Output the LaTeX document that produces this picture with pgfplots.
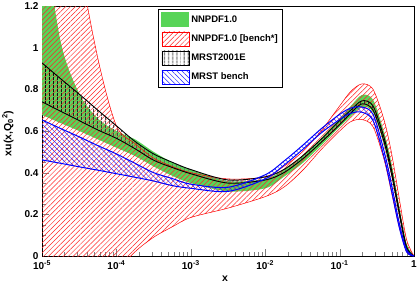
\documentclass[border=0pt]{standalone}
\usepackage{fontspec}
\setmainfont{Liberation Sans}
\usepackage{pgfplots}
\pgfplotsset{compat=1.18}
\usepackage{pgfplotstable}
\usepgfplotslibrary{fillbetween}
\usetikzlibrary{patterns.meta}
\definecolor{nngreen}{RGB}{88,212,88}

\pgfplotstableread{
x        gu     gl     ru     rl     ku     kl     bu     bl
1e-5     1.60   0.677  3.4    -1.0   0.927  0.740  0.653  0.461
1.778e-5 1.03   0.638  2.3    -0.70  0.851  0.695  0.612  0.445
3.162e-5 0.78   0.600  1.45   -0.45  0.777  0.650  0.572  0.428
5.623e-5 0.66   0.560  0.95   -0.23  0.700  0.605  0.530  0.412
1e-4     0.60   0.520  0.625  -0.08  0.625  0.565  0.490  0.395
1.778e-4 0.56   0.480  0.54   0.02   0.550  0.515  0.445  0.378
3.162e-4 0.50   0.430  0.47   0.09   0.490  0.460  0.400  0.360
5.623e-4 0.45   0.385  0.43   0.14   0.450  0.425  0.372  0.338
1e-3     0.415  0.350  0.40   0.185  0.415  0.395  0.345  0.325
3.162e-3 0.36   0.310  0.37   0.23   0.365  0.350  0.330  0.310
1e-2     0.37   0.325  0.38   0.285  0.380  0.365  0.390  0.370
1.778e-2 0.415  0.380  0.43   0.33   0.415  0.400  0.455  0.435
3.162e-2 0.48   0.445  0.50   0.41   0.480  0.465  0.530  0.510
5.623e-2 0.565  0.530  0.60   0.51   0.560  0.545  0.610  0.590
0.1      0.66   0.620  0.72   0.60   0.650  0.630  0.680  0.655
0.1413   0.72   0.670  0.79   0.645  0.700  0.685  0.710  0.685
0.1995   0.773  0.715  0.826  0.655  0.745  0.730  0.715  0.690
0.2818   0.75   0.690  0.80   0.62   0.720  0.700  0.680  0.650
0.3981   0.59   0.530  0.65   0.46   0.565  0.545  0.500  0.470
0.5012   0.44   0.380  0.49   0.30   0.410  0.390  0.340  0.310
0.631    0.24   0.200  0.28   0.14   0.220  0.205  0.160  0.140
0.7943   0.06   0.030  0.08   0.02   0.045  0.035  0.030  0.020
1        0      0      0      0      0      0      0      0
}\data

\begin{document}
\begin{tikzpicture}
\begin{axis}[
  scale only axis, width=372pt, height=250pt,
  xmode=log, xmin=1e-5, xmax=1, ymin=0, ymax=1.2,
  xtick={1e-5,1e-4,1e-3,1e-2,1e-1,1},
  xticklabels={10\textsuperscript{-5},10\textsuperscript{-4},10\textsuperscript{-3},10\textsuperscript{-2},10\textsuperscript{-1},1},
  ytick={0,0.2,0.4,0.6,0.8,1,1.2},
  yticklabels={0,0.2,0.4,0.6,0.8,1,1.2},
  minor y tick num=3,
  xtick pos=bottom, ytick pos=left,
  tick align=inside,
  major tick length=7pt, minor tick length=4pt,
  tick label style={font=\bfseries\fontsize{10}{12}\selectfont},
  xticklabel style={yshift=-1.5pt},
  xlabel={x}, ylabel={xu(x,Q\textsubscript{0}\rlap{\textsuperscript{2}}\hphantom{\textsuperscript{2}})},
  label style={font=\bfseries\fontsize{10.5}{12}\selectfont},
  xlabel style={at={(axis description cs:0.492,0)}, anchor=base, yshift=-25pt},
  ylabel style={at={(axis description cs:-0.0914,0.49)}, anchor=center},
  legend style={at={(0.312,0.988)}, anchor=north west, draw=black, line width=0.8pt,
    font=\bfseries\fontsize{9.5}{11}\selectfont, row sep=4.5pt, inner sep=3pt,
    nodes={inner sep=2pt}},
  legend cell align=left,
  clip=true,
]
\addplot[name path=gu, draw=none, smooth, forget plot] table[x=x,y=gu]{\data};
\addplot[name path=gl, draw=none, smooth, forget plot] table[x=x,y=gl]{\data};
\addplot[name path=ru, draw=none, smooth, forget plot] table[x=x,y=ru]{\data};
\addplot[name path=rl, draw=none, smooth, forget plot] table[x=x,y=rl]{\data};
\addplot[name path=ku, draw=none, smooth, forget plot] table[x=x,y=ku]{\data};
\addplot[name path=kl, draw=none, smooth, forget plot] table[x=x,y=kl]{\data};
\addplot[name path=bu, draw=none, smooth, forget plot] table[x=x,y=bu]{\data};
\addplot[name path=bl, draw=none, smooth, forget plot] table[x=x,y=bl]{\data};

\addplot[fill=nngreen, draw=none, forget plot] fill between[of=gu and gl];
\addplot[pattern={Lines[angle=45,distance=3.5pt,line width=0.5pt]}, pattern color=red!85, draw=none, forget plot] fill between[of=ru and rl];
\addplot[pattern={Lines[angle=90,distance=4pt,line width=0.9pt]}, pattern color=black, draw=none, forget plot] fill between[of=ku and kl];
\addplot[pattern={Lines[angle=-45,distance=3.5pt,line width=0.5pt]}, pattern color=blue!85, draw=none, forget plot] fill between[of=bu and bl];

\addplot[red, line width=0.5pt, smooth, forget plot] table[x=x,y=ru]{\data};
\addplot[red, line width=0.5pt, smooth, forget plot] table[x=x,y=rl]{\data};
\addplot[black, line width=0.9pt, smooth, forget plot] table[x=x,y=ku]{\data};
\addplot[black, line width=0.9pt, smooth, forget plot] table[x=x,y=kl]{\data};
\addplot[blue, line width=1pt, smooth, forget plot] table[x=x,y=bu]{\data};
\addplot[blue, line width=1pt, smooth, forget plot] table[x=x,y=bl]{\data};

\addlegendimage{legend image code/.code={\fill[nngreen] (0pt,-7pt) rectangle (27pt,7pt);}}
\addlegendentry{NNPDF1.0}
\addlegendimage{legend image code/.code={\draw[red, line width=0.4pt, pattern={Lines[angle=45,distance=3.5pt,line width=0.5pt]}, pattern color=red!85] (0pt,-7pt) rectangle (27pt,7pt);}}
\addlegendentry{NNPDF1.0 [bench*]}
\addlegendimage{legend image code/.code={\draw[black, line width=0.6pt, pattern={Lines[angle=90,distance=4pt,line width=0.9pt]}, pattern color=black] (0pt,-7pt) rectangle (27pt,7pt);}}
\addlegendentry{MRST2001E}
\addlegendimage{legend image code/.code={\draw[blue, line width=0.6pt, pattern={Lines[angle=-45,distance=3.5pt,line width=0.5pt]}, pattern color=blue!85] (0pt,-7pt) rectangle (27pt,7pt);}}
\addlegendentry{MRST bench}
\end{axis}
\pgfresetboundingbox
\path[use as bounding box] (current axis.south west) ++(-42pt,-29pt) rectangle ++(419pt,285pt);
\end{tikzpicture}
\end{document}
